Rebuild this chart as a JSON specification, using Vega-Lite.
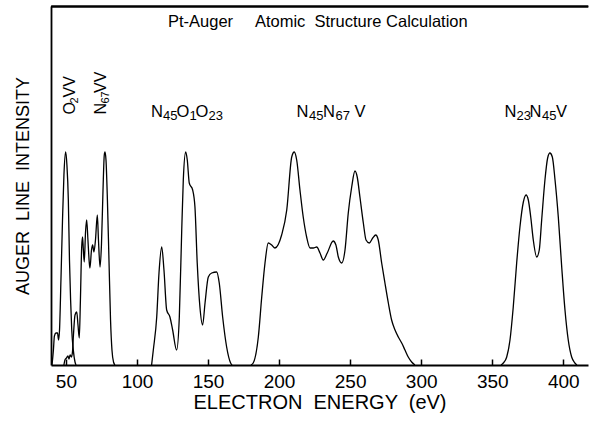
{
  "$schema": "https://vega.github.io/schema/vega-lite/v6.json",
  "width": 537,
  "height": 359,
  "autosize": {"type": "none"},
  "padding": {"left": 51, "top": 6, "right": 1, "bottom": 58},
  "background": "white",
  "config": {"view": {"stroke": null}, "font": "Liberation Sans"},
  "resolve": {"axis": {"x": "independent"}},
  "datasets": {
    "spectra": [
      {"series": "O2VV", "energy": 40.2, "intensity": 0},
      {"series": "O2VV", "energy": 41.2, "intensity": 15},
      {"series": "O2VV", "energy": 41.9, "intensity": 29},
      {"series": "O2VV", "energy": 43.0, "intensity": 32},
      {"series": "O2VV", "energy": 44.1, "intensity": 32},
      {"series": "O2VV", "energy": 44.8, "intensity": 25},
      {"series": "O2VV", "energy": 45.5, "intensity": 35},
      {"series": "O2VV", "energy": 46.5, "intensity": 85},
      {"series": "O2VV", "energy": 47.6, "intensity": 145},
      {"series": "O2VV", "energy": 48.6, "intensity": 190},
      {"series": "O2VV", "energy": 49.8, "intensity": 213},
      {"series": "O2VV", "energy": 50.7, "intensity": 200},
      {"series": "O2VV", "energy": 51.7, "intensity": 165},
      {"series": "O2VV", "energy": 52.5, "intensity": 105},
      {"series": "O2VV", "energy": 53.3, "intensity": 65},
      {"series": "O2VV", "energy": 54.1, "intensity": 35},
      {"series": "O2VV", "energy": 55.2, "intensity": 15},
      {"series": "O2VV", "energy": 56.4, "intensity": 3},
      {"series": "O2VV", "energy": 57.1, "intensity": 0},

      {"series": "N67VV", "energy": 48.6, "intensity": 0},
      {"series": "N67VV", "energy": 49.3, "intensity": 5},
      {"series": "N67VV", "energy": 50.4, "intensity": 7},
      {"series": "N67VV", "energy": 51.4, "intensity": 9},
      {"series": "N67VV", "energy": 52.2, "intensity": 6},
      {"series": "N67VV", "energy": 52.9, "intensity": 10},
      {"series": "N67VV", "energy": 53.9, "intensity": 8},
      {"series": "N67VV", "energy": 54.6, "intensity": 13},
      {"series": "N67VV", "energy": 55.3, "intensity": 30},
      {"series": "N67VV", "energy": 56.4, "intensity": 50},
      {"series": "N67VV", "energy": 57.6, "intensity": 53},
      {"series": "N67VV", "energy": 58.5, "intensity": 40},
      {"series": "N67VV", "energy": 59.4, "intensity": 27},
      {"series": "N67VV", "energy": 60.2, "intensity": 65},
      {"series": "N67VV", "energy": 61.1, "intensity": 118},
      {"series": "N67VV", "energy": 61.7, "intensity": 128},
      {"series": "N67VV", "energy": 62.2, "intensity": 117},
      {"series": "N67VV", "energy": 62.9, "intensity": 103},
      {"series": "N67VV", "energy": 63.8, "intensity": 133},
      {"series": "N67VV", "energy": 64.6, "intensity": 145},
      {"series": "N67VV", "energy": 65.5, "intensity": 125},
      {"series": "N67VV", "energy": 66.4, "intensity": 103},
      {"series": "N67VV", "energy": 66.9, "intensity": 97},
      {"series": "N67VV", "energy": 68.0, "intensity": 115},
      {"series": "N67VV", "energy": 68.8, "intensity": 120},
      {"series": "N67VV", "energy": 69.7, "intensity": 113},
      {"series": "N67VV", "energy": 70.8, "intensity": 125},
      {"series": "N67VV", "energy": 72.1, "intensity": 150},
      {"series": "N67VV", "energy": 72.9, "intensity": 125},
      {"series": "N67VV", "energy": 74.0, "intensity": 98},
      {"series": "N67VV", "energy": 75.0, "intensity": 120},
      {"series": "N67VV", "energy": 76.1, "intensity": 175},
      {"series": "N67VV", "energy": 77.0, "intensity": 210},
      {"series": "N67VV", "energy": 77.5, "intensity": 213},
      {"series": "N67VV", "energy": 78.2, "intensity": 205},
      {"series": "N67VV", "energy": 79.2, "intensity": 165},
      {"series": "N67VV", "energy": 80.3, "intensity": 105},
      {"series": "N67VV", "energy": 81.4, "intensity": 45},
      {"series": "N67VV", "energy": 82.4, "intensity": 15},
      {"series": "N67VV", "energy": 83.5, "intensity": 3},
      {"series": "N67VV", "energy": 84.5, "intensity": 0},

      {"series": "N45O1O23", "energy": 110.3, "intensity": 0},
      {"series": "N45O1O23", "energy": 111.5, "intensity": 15},
      {"series": "N45O1O23", "energy": 113.9, "intensity": 48},
      {"series": "N45O1O23", "energy": 115.5, "intensity": 92},
      {"series": "N45O1O23", "energy": 117.4, "intensity": 118},
      {"series": "N45O1O23", "energy": 119.0, "intensity": 95},
      {"series": "N45O1O23", "energy": 120.9, "intensity": 55},
      {"series": "N45O1O23", "energy": 123.2, "intensity": 48},
      {"series": "N45O1O23", "energy": 125.1, "intensity": 35},
      {"series": "N45O1O23", "energy": 127.9, "intensity": 15},
      {"series": "N45O1O23", "energy": 129.8, "intensity": 48},
      {"series": "N45O1O23", "energy": 131.5, "intensity": 135},
      {"series": "N45O1O23", "energy": 132.6, "intensity": 185},
      {"series": "N45O1O23", "energy": 134.3, "intensity": 213},
      {"series": "N45O1O23", "energy": 135.4, "intensity": 205},
      {"series": "N45O1O23", "energy": 136.8, "intensity": 182},
      {"series": "N45O1O23", "energy": 139.2, "intensity": 175},
      {"series": "N45O1O23", "energy": 140.8, "intensity": 158},
      {"series": "N45O1O23", "energy": 142.4, "intensity": 102},
      {"series": "N45O1O23", "energy": 144.3, "intensity": 58},
      {"series": "N45O1O23", "energy": 146.2, "intensity": 40},
      {"series": "N45O1O23", "energy": 147.9, "intensity": 62},
      {"series": "N45O1O23", "energy": 150.2, "intensity": 88},
      {"series": "N45O1O23", "energy": 152.6, "intensity": 92},
      {"series": "N45O1O23", "energy": 156.1, "intensity": 93},
      {"series": "N45O1O23", "energy": 157.9, "intensity": 82},
      {"series": "N45O1O23", "energy": 160.3, "intensity": 48},
      {"series": "N45O1O23", "energy": 163.1, "intensity": 18},
      {"series": "N45O1O23", "energy": 165.9, "intensity": 2},
      {"series": "N45O1O23", "energy": 166.9, "intensity": 0},

      {"series": "N45N67V", "energy": 180.2, "intensity": 0},
      {"series": "N45N67V", "energy": 181.8, "intensity": 2},
      {"series": "N45N67V", "energy": 185.4, "intensity": 28},
      {"series": "N45N67V", "energy": 187.8, "intensity": 68},
      {"series": "N45N67V", "energy": 190.1, "intensity": 102},
      {"series": "N45N67V", "energy": 192.4, "intensity": 122},
      {"series": "N45N67V", "energy": 194.8, "intensity": 120},
      {"series": "N45N67V", "energy": 197.1, "intensity": 117},
      {"series": "N45N67V", "energy": 201.8, "intensity": 130},
      {"series": "N45N67V", "energy": 205.4, "intensity": 155},
      {"series": "N45N67V", "energy": 208.9, "intensity": 208},
      {"series": "N45N67V", "energy": 210.7, "intensity": 213},
      {"series": "N45N67V", "energy": 212.4, "intensity": 205},
      {"series": "N45N67V", "energy": 214.7, "intensity": 175},
      {"series": "N45N67V", "energy": 217.0, "intensity": 148},
      {"series": "N45N67V", "energy": 219.4, "intensity": 128},
      {"series": "N45N67V", "energy": 221.8, "intensity": 117},
      {"series": "N45N67V", "energy": 224.1, "intensity": 117},
      {"series": "N45N67V", "energy": 226.5, "intensity": 118},
      {"series": "N45N67V", "energy": 228.8, "intensity": 112},
      {"series": "N45N67V", "energy": 231.1, "intensity": 105},
      {"series": "N45N67V", "energy": 233.9, "intensity": 112},
      {"series": "N45N67V", "energy": 238.1, "intensity": 124},
      {"series": "N45N67V", "energy": 240.0, "intensity": 120},
      {"series": "N45N67V", "energy": 241.7, "intensity": 108},
      {"series": "N45N67V", "energy": 244.1, "intensity": 102},
      {"series": "N45N67V", "energy": 246.4, "intensity": 115},
      {"series": "N45N67V", "energy": 248.7, "intensity": 152},
      {"series": "N45N67V", "energy": 251.1, "intensity": 178},
      {"series": "N45N67V", "energy": 253.4, "intensity": 194},
      {"series": "N45N67V", "energy": 255.0, "intensity": 188},
      {"series": "N45N67V", "energy": 256.9, "intensity": 168},
      {"series": "N45N67V", "energy": 259.3, "intensity": 142},
      {"series": "N45N67V", "energy": 261.2, "intensity": 125},
      {"series": "N45N67V", "energy": 263.5, "intensity": 122},
      {"series": "N45N67V", "energy": 265.9, "intensity": 127},
      {"series": "N45N67V", "energy": 268.0, "intensity": 130},
      {"series": "N45N67V", "energy": 269.8, "intensity": 125},
      {"series": "N45N67V", "energy": 272.2, "intensity": 102},
      {"series": "N45N67V", "energy": 274.5, "intensity": 82},
      {"series": "N45N67V", "energy": 276.9, "intensity": 62},
      {"series": "N45N67V", "energy": 279.2, "intensity": 45},
      {"series": "N45N67V", "energy": 281.6, "intensity": 35},
      {"series": "N45N67V", "energy": 283.9, "intensity": 28},
      {"series": "N45N67V", "energy": 286.3, "intensity": 22},
      {"series": "N45N67V", "energy": 288.6, "intensity": 15},
      {"series": "N45N67V", "energy": 290.9, "intensity": 8},
      {"series": "N45N67V", "energy": 293.3, "intensity": 3},
      {"series": "N45N67V", "energy": 295.6, "intensity": 0},

      {"series": "N23N45V", "energy": 356.2, "intensity": 0},
      {"series": "N23N45V", "energy": 357.8, "intensity": 2},
      {"series": "N23N45V", "energy": 360.2, "intensity": 8},
      {"series": "N23N45V", "energy": 362.5, "intensity": 25},
      {"series": "N23N45V", "energy": 364.8, "intensity": 58},
      {"series": "N23N45V", "energy": 367.2, "intensity": 102},
      {"series": "N23N45V", "energy": 369.5, "intensity": 138},
      {"series": "N23N45V", "energy": 371.9, "intensity": 163},
      {"series": "N23N45V", "energy": 373.8, "intensity": 170},
      {"series": "N23N45V", "energy": 375.4, "intensity": 165},
      {"series": "N23N45V", "energy": 377.1, "intensity": 148},
      {"series": "N23N45V", "energy": 378.9, "intensity": 125},
      {"series": "N23N45V", "energy": 381.3, "intensity": 108},
      {"series": "N23N45V", "energy": 383.1, "intensity": 115},
      {"series": "N23N45V", "energy": 384.8, "intensity": 145},
      {"series": "N23N45V", "energy": 387.1, "intensity": 185},
      {"series": "N23N45V", "energy": 389.0, "intensity": 207},
      {"series": "N23N45V", "energy": 390.6, "intensity": 212},
      {"series": "N23N45V", "energy": 392.3, "intensity": 208},
      {"series": "N23N45V", "energy": 394.2, "intensity": 185},
      {"series": "N23N45V", "energy": 396.5, "intensity": 148},
      {"series": "N23N45V", "energy": 398.9, "intensity": 98},
      {"series": "N23N45V", "energy": 401.2, "intensity": 55},
      {"series": "N23N45V", "energy": 403.5, "intensity": 25},
      {"series": "N23N45V", "energy": 405.9, "intensity": 8},
      {"series": "N23N45V", "energy": 408.2, "intensity": 2},
      {"series": "N23N45V", "energy": 409.6, "intensity": 0}
    ],
    "frame": [
      {"energy": 39.5, "intensity": 358.5},
      {"energy": 417.4, "intensity": 358.5}
    ],
    "hmain": [
      {"text": "N", "energy": 109.85, "intensity": 248.3},
      {"text": "O", "energy": 127.8, "intensity": 248.3},
      {"text": "O", "energy": 141.2, "intensity": 248.3},
      {"text": "N", "energy": 212.25, "intensity": 248.3},
      {"text": "N", "energy": 230.9, "intensity": 248.3},
      {"text": "V", "energy": 253.1, "intensity": 248.3},
      {"text": "N", "energy": 358.6, "intensity": 248.3},
      {"text": "N", "energy": 376.2, "intensity": 248.3},
      {"text": "V", "energy": 394.9, "intensity": 248.3}
    ],
    "hsub": [
      {"text": "45", "energy": 118.3, "intensity": 245.5},
      {"text": "1", "energy": 136.95, "intensity": 245.5},
      {"text": "23", "energy": 150.3, "intensity": 245.5},
      {"text": "45", "energy": 221.0, "intensity": 245.5},
      {"text": "67", "energy": 239.7, "intensity": 245.5},
      {"text": "23", "energy": 367.1, "intensity": 245.5},
      {"text": "45", "energy": 385.0, "intensity": 245.5}
    ],
    "vmain": [
      {"text": "O", "energy": 56.4, "intensity": 250.5},
      {"text": "VV", "energy": 56.4, "intensity": 267.5},
      {"text": "N", "energy": 78.2, "intensity": 250.5},
      {"text": "VV", "energy": 78.2, "intensity": 272}
    ],
    "vsub": [
      {"text": "2", "energy": 58.5, "intensity": 261.5},
      {"text": "67", "energy": 80.3, "intensity": 261.5}
    ],
    "titles": [
      {"text": "Pt-Auger", "energy": 121.8, "intensity": 338},
      {"text": "Atomic \u00a0Structure Calculation", "energy": 183.0, "intensity": 338}
    ]
  },
  "layer": [
    {
      "data": {"name": "spectra"},
      "mark": {"type": "line", "color": "black", "strokeWidth": 1.3, "interpolate": "monotone"},
      "encoding": {
        "x": {
          "field": "energy", "type": "quantitative",
          "scale": {"domain": [39.5, 417.4], "nice": false, "zero": false},
          "axis": {
            "orient": "bottom",
            "values": [50, 100, 150, 200, 250, 300, 350, 400],
            "tickSize": -6, "tickWidth": 1.5, "tickColor": "black",
            "domainColor": "black", "domainWidth": 1.8,
            "labelFontSize": 19, "labelColor": "black", "labelPadding": 13, "labelFlush": false,
            "title": "ELECTRON \u00a0ENERGY \u00a0(eV)", "titleFontSize": 20, "titleFontWeight": "normal",
            "titleColor": "black", "titlePadding": 1, "grid": false
          }
        },
        "y": {
          "field": "intensity", "type": "quantitative",
          "scale": {"domain": [0, 359], "nice": false},
          "axis": {
            "labels": false, "ticks": false, "grid": false,
            "domainColor": "black", "domainWidth": 1.8,
            "title": "AUGER \u00a0LINE \u00a0INTENSITY", "titleFontSize": 18, "titleFontWeight": "normal",
            "titleColor": "black", "titlePadding": 19
          }
        },
        "detail": {"field": "series"}
      }
    },
    {
      "data": {"name": "frame"},
      "mark": {"type": "line", "color": "black", "strokeWidth": 2},
      "encoding": {
        "x": {
          "field": "energy", "type": "quantitative",
          "axis": {"orient": "top", "labels": false, "ticks": false, "grid": false, "title": null, "domainColor": "black", "domainWidth": 2}
        },
        "y": {"field": "intensity", "type": "quantitative"}
      }
    },
    {
      "data": {"name": "hmain"},
      "mark": {"type": "text", "fontSize": 16.5, "align": "left", "baseline": "alphabetic", "color": "black"},
      "encoding": {
        "x": {"field": "energy", "type": "quantitative", "axis": null},
        "y": {"field": "intensity", "type": "quantitative"},
        "text": {"field": "text"}
      }
    },
    {
      "data": {"name": "hsub"},
      "mark": {"type": "text", "fontSize": 13, "align": "left", "baseline": "alphabetic", "color": "black"},
      "encoding": {
        "x": {"field": "energy", "type": "quantitative", "axis": null},
        "y": {"field": "intensity", "type": "quantitative"},
        "text": {"field": "text"}
      }
    },
    {
      "data": {"name": "vmain"},
      "mark": {"type": "text", "fontSize": 16, "align": "left", "baseline": "alphabetic", "angle": 270, "color": "black"},
      "encoding": {
        "x": {"field": "energy", "type": "quantitative", "axis": null},
        "y": {"field": "intensity", "type": "quantitative"},
        "text": {"field": "text"}
      }
    },
    {
      "data": {"name": "vsub"},
      "mark": {"type": "text", "fontSize": 11, "align": "left", "baseline": "alphabetic", "angle": 270, "color": "black"},
      "encoding": {
        "x": {"field": "energy", "type": "quantitative", "axis": null},
        "y": {"field": "intensity", "type": "quantitative"},
        "text": {"field": "text"}
      }
    },
    {
      "data": {"name": "titles"},
      "mark": {"type": "text", "fontSize": 16.5, "align": "left", "baseline": "alphabetic", "color": "black"},
      "encoding": {
        "x": {"field": "energy", "type": "quantitative", "axis": null},
        "y": {"field": "intensity", "type": "quantitative"},
        "text": {"field": "text"}
      }
    }
  ]
}
